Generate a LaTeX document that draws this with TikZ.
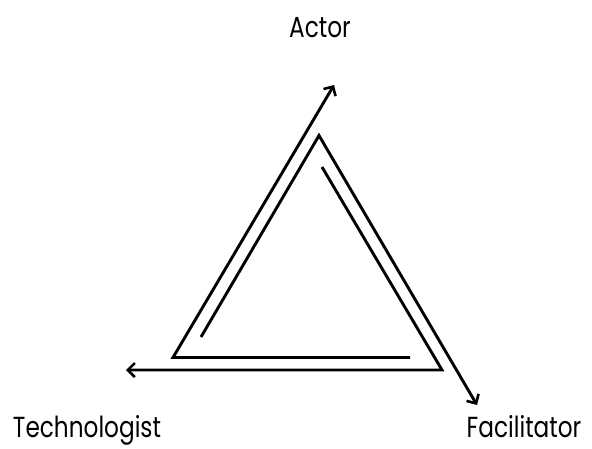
\documentclass[tikz,border=0pt]{standalone}
\usepackage{fontspec}
\setmainfont{Poppins}[FakeStretch=0.8]
\usetikzlibrary{arrows.meta}
\begin{document}
\begin{tikzpicture}[x=1pt,y=-1pt,
  edge/.style={line width=2.9pt, line join=miter, -{Straight Barb[length=7pt,width=14pt,line width=2.6pt]}},
  lbl/.style={inner sep=0pt, font=\fontsize{29}{32}\selectfont}]
\useasboundingbox[fill=white] (0,0) rectangle (592,448);
% path A
\coordinate (a0) at (410,357.5);
\coordinate (a1) at (173,357.5);
\coordinate (a2) at (334,85);
% path B
\coordinate (b0) at (201,337);
\coordinate (b1) at (319,135.5);
\coordinate (b2) at (477,405);
% path C
\coordinate (c0) at (322,167);
\coordinate (c1) at (442,370);
\coordinate (c2) at (126,370);
\draw[edge] (a0) -- (a1) -- (a2);
\draw[edge] (b0) -- (b1) -- (b2);
\draw[edge] (c0) -- (c1) -- (c2);
\node[lbl, anchor=base] (actor) at (320,37) {Actor};
\node[lbl, anchor=base] (tech) at (87,437) {Technologist};
\node[lbl, anchor=base] (fac) at (524,437) {Facilitator};
\end{tikzpicture}
\end{document}
